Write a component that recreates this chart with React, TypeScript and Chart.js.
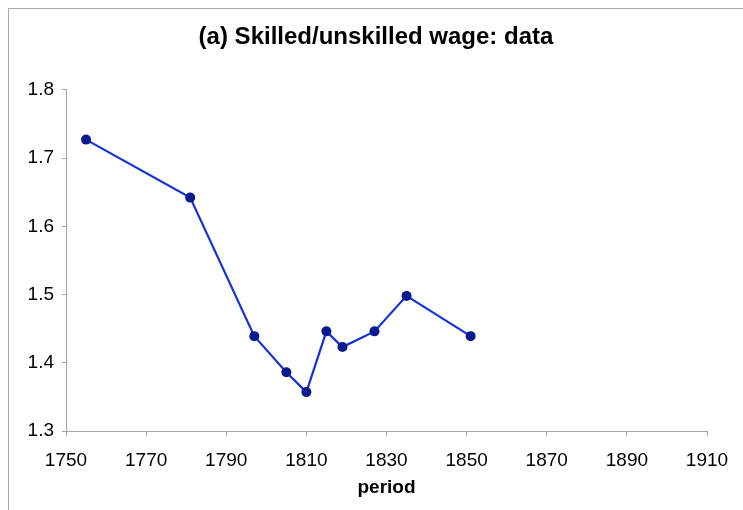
import React, { useEffect, useRef } from "react";
import { Chart, registerables } from "chart.js";

Chart.register(...registerables);

const years = [1755, 1781, 1797, 1805, 1810, 1815, 1819, 1827, 1835, 1851];
const ratio = [1.727, 1.642, 1.439, 1.386, 1.357, 1.446, 1.423, 1.446, 1.498, 1.439];
const chartTitle = "(a) Skilled/unskilled wage: data";
const xAxisTitle = "period";

const FONT = "'Liberation Sans', Arial, Helvetica, sans-serif";
const AXIS = "#a6a6a6";

export default function App() {
  const ref = useRef<HTMLCanvasElement | null>(null);

  useEffect(() => {
    if (!ref.current) return;
    const chart = new Chart(ref.current, {
      type: "line",
      data: {
        datasets: [
          {
            data: years.map((x, i) => ({ x, y: ratio[i] })),
            borderColor: "#1432dc",
            borderWidth: 2.2,
            pointBackgroundColor: "#0b1a8f",
            pointBorderColor: "#0b1a8f",
            pointRadius: 5,
            pointBorderWidth: 0,
            tension: 0,
            fill: false,
          },
        ],
      },
      options: {
        responsive: false,
        animation: false,
        layout: { padding: { left: 0, right: 0, top: 0, bottom: 0 } },
        plugins: {
          legend: { display: false },
          tooltip: { enabled: false },
          title: {
            display: true,
            text: chartTitle,
            color: "#000",
            font: { family: FONT, size: 24, weight: "bold" },
            padding: { top: 14, bottom: 38 },
          },
        },
        scales: {
          x: {
            type: "linear",
            min: 1750,
            max: 1910,
            afterFit: (s: any) => {
              s.height = 79;
            },
            ticks: {
              stepSize: 20,
              color: "#000",
              font: { family: FONT, size: 19 },
              padding: 13,
              maxRotation: 0,
              callback: (v: any) => String(v),
            },
            grid: {
              display: true,
              drawOnChartArea: false,
              drawTicks: true,
              tickLength: 5,
              color: AXIS,
            },
            border: { display: true, color: AXIS, width: 1 },
            title: {
              display: true,
              text: xAxisTitle,
              color: "#000",
              font: { family: FONT, size: 19, weight: "bold" },
              padding: { top: 0, bottom: 11 },
            },
          },
          y: {
            type: "linear",
            min: 1.3,
            max: 1.8,
            afterFit: (s: any) => {
              s.width = 57;
            },
            ticks: {
              stepSize: 0.1,
              color: "#000",
              font: { family: FONT, size: 19 },
              padding: 8,
              callback: (v: any) => Number(v).toFixed(1),
            },
            grid: {
              display: true,
              drawOnChartArea: false,
              drawTicks: true,
              tickLength: 4,
              color: AXIS,
            },
            border: { display: true, color: AXIS, width: 1 },
          },
          yRight: {
            type: "linear",
            position: "right",
            display: true,
            afterFit: (s: any) => {
              s.width = 36;
            },
            ticks: { display: false },
            grid: { display: false, drawTicks: false },
            border: { display: false },
          },
        },
      },
    });
    return () => chart.destroy();
  }, []);

  return (
    <div
      style={{
        position: "fixed",
        left: 8,
        top: 8,
        width: 745,
        height: 510,
        border: "1px solid #aaaaaa",
        background: "#fff",
      }}
    >
      <canvas ref={ref} width={734} height={501} style={{ display: "block" }} />
    </div>
  );
}
